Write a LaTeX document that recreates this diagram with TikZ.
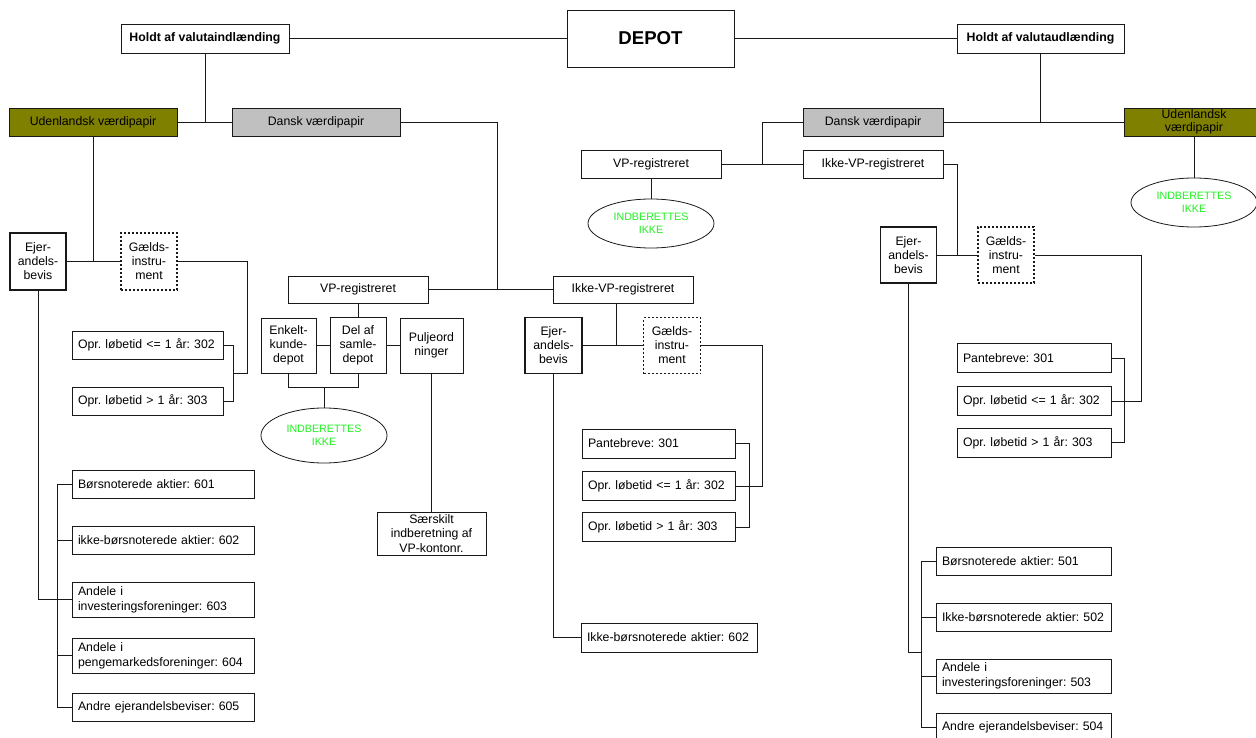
\documentclass[tikz,border=0pt]{standalone}
\usepackage{fontspec}
\setmainfont{Liberation Sans}
\usetikzlibrary{shapes.geometric}
\newcommand\myfs{\fontsize{12.3pt}{14pt}\selectfont\frenchspacing}
\newcommand\myfss{\fontsize{10.7pt}{13pt}\selectfont}
\definecolor{olivebox}{RGB}{128,128,0}
\definecolor{graybox}{RGB}{192,192,192}
\definecolor{greentxt}{RGB}{30,240,30}
\definecolor{linecol}{RGB}{25,25,25}
\tikzset{
  bx/.style={draw=linecol, line width=0.8pt, inner sep=0pt, align=center, font=\myfs},
  lb/.style={bx, align=left, inner xsep=6pt, text width=#1},
  ejerbox/.style={bx, line width=1.8pt, minimum width=56pt, minimum height=56pt},
  gaeldbox/.style={bx, line width=1.5pt, dash pattern=on 2pt off 2pt, minimum width=56pt, minimum height=56pt},
  ell/.style={draw=linecol, line width=0.8pt, ellipse, inner sep=0pt, align=center, font=\myfss, text=greentxt},
  cn/.style={draw=linecol, line width=0.8pt},
}
\begin{document}
\frenchspacing
\begin{tikzpicture}[x=1pt,y=-1pt]
\useasboundingbox (0,0) rectangle (1256,738);
\clip (0,0) rectangle (1256,738);
% top row
\node[bx, font=\myfs\bfseries, minimum width=168pt, minimum height=29pt] (holdtL) at (205,38.5) {Holdt af valutaindlænding};
\node[bx, font=\fontsize{18.6pt}{20pt}\selectfont\bfseries, minimum width=167pt, minimum height=57pt] (depot) at (650.5,38.5) {DEPOT};
\node[bx, font=\myfs\bfseries, minimum width=167pt, minimum height=29pt] (holdtR) at (1040.5,38.5) {Holdt af valutaudlænding};
% second row
\node[bx, fill=olivebox, minimum width=168pt, minimum height=28pt] (udenL) at (93,122) {Udenlandsk værdipapir};
\node[bx, fill=graybox, minimum width=168pt, minimum height=28pt] (danskL) at (316,122) {Dansk værdipapir};
\node[bx, fill=graybox, minimum width=140pt, minimum height=28pt] (danskR) at (873,122) {Dansk værdipapir};
\node[bx, fill=olivebox, minimum width=140pt, minimum height=28pt, font=\fontsize{12.3pt}{13pt}\selectfont] (udenR) at (1194,122) {Udenlandsk\\værdipapir};
% right VP
\node[bx, minimum width=140pt, minimum height=28pt] (vpR) at (651,164) {VP-registreret};
\node[bx, minimum width=140pt, minimum height=28pt] (ikkevpR) at (873,164) {Ikke-VP-registreret};
\node[ell, minimum width=126pt, minimum height=49pt] (ellVPR) at (651,223.5) {INDBERETTES\\IKKE};
\node[ell, minimum width=126pt, minimum height=49pt] (ellUR) at (1194,202.5) {INDBERETTES\\IKKE};
% left branch
\node[ejerbox, minimum height=57pt] (ejerL) at (38,261.5) {Ejer-\\andels-\\bevis};
\node[gaeldbox, minimum height=57pt] (gaeldL) at (149,261.5) {Gælds-\\instru-\\ment};
\node[lb=139pt, minimum height=28pt] (opr1L) at (147.5,345) {Opr. løbetid <= 1 år: 302};
\node[lb=139pt, minimum height=28pt] (opr2L) at (147.5,401) {Opr. løbetid > 1 år: 303};
\node[lb=170pt, minimum height=28pt] (b601) at (163,484) {Børsnoterede aktier: 601};
\node[lb=170pt, minimum height=28pt] (b602) at (163,540) {ikke-børsnoterede aktier: 602};
\node[lb=170pt, minimum height=35pt, font=\fontsize{12.3pt}{15pt}\selectfont] (b603) at (163,599.5) {Andele i\\investeringsforeninger: 603};
\node[lb=170pt, minimum height=35pt, font=\fontsize{12.3pt}{15pt}\selectfont] (b604) at (163,655.5) {Andele i\\pengemarkedsforeninger: 604};
\node[lb=170pt, minimum height=28pt] (b605) at (163,707) {Andre ejerandelsbeviser: 605};
% middle VP
\node[bx, minimum width=140pt, minimum height=27pt] (vpM) at (358,289.5) {VP-registreret};
\node[bx, minimum width=140pt, minimum height=27pt] (ikkevpM) at (623,289.5) {Ikke-VP-registreret};
\node[bx, minimum width=55pt, minimum height=55pt] (enkelt) at (288.5,345.5) {Enkelt-\\kunde-\\depot};
\node[bx, minimum width=56pt, minimum height=56pt] (delaf) at (358,345) {Del af\\samle-\\depot};
\node[bx, minimum width=63pt, minimum height=55pt] (pulje) at (431.5,345.5) {Puljeord\\ninger};
\node[ell, minimum width=126pt, minimum height=55pt] (ellM) at (324,435.5) {INDBERETTES\\IKKE};
\node[bx, minimum width=109pt, minimum height=43pt, font=\fontsize{12.3pt}{14.5pt}\selectfont] (saerskilt) at (431.5,533.5) {Særskilt\\indberetning af\\VP-kontonr.};
% middle Ikke-VP
\node[ejerbox, minimum height=56pt, minimum width=57pt] (ejerM) at (553.5,345.5) {Ejer-\\andels-\\bevis};
\node[gaeldbox, minimum height=56pt, minimum width=57pt] (gaeldM) at (672,345.5) {Gælds-\\instru-\\ment};
\node[lb=141pt, minimum height=29pt] (p301M) at (658.5,443.5) {Pantebreve: 301};
\node[lb=141pt, minimum height=29pt] (opr1M) at (658.5,486) {Opr. løbetid <= 1 år: 302};
\node[lb=141pt, minimum height=29pt] (opr2M) at (658.5,527) {Opr. løbetid > 1 år: 303};
\node[lb=164pt, minimum height=29pt] (b602M) at (669,637.5) {Ikke-børsnoterede aktier: 602};
% right Ikke-VP
\node[ejerbox] (ejerR) at (908.5,255) {Ejer-\\andels-\\bevis};
\node[gaeldbox] (gaeldR) at (1006,255) {Gælds-\\instru-\\ment};
\node[lb=142pt, minimum height=29pt] (p301R) at (1034,358) {Pantebreve: 301};
\node[lb=142pt, minimum height=29pt] (opr1R) at (1034,401) {Opr. løbetid <= 1 år: 302};
\node[lb=142pt, minimum height=29pt] (opr2R) at (1034,442.5) {Opr. løbetid > 1 år: 303};
\node[lb=163pt, minimum height=28pt] (b501) at (1023.5,561) {Børsnoterede aktier: 501};
\node[lb=163pt, minimum height=28pt] (b502) at (1023.5,617) {Ikke-børsnoterede aktier: 502};
\node[lb=163pt, minimum height=34pt, font=\fontsize{12.3pt}{15pt}\selectfont] (b503) at (1023.5,676) {Andele i\\investeringsforeninger: 503};
\node[lb=163pt, minimum height=27pt] (b504) at (1023.5,727) {Andre ejerandelsbeviser: 504};
% junction coordinates
\coordinate (jL) at (497,289.5);
\coordinate (jG1) at (247,373);
\coordinate (bL) at (58,599.5);
\coordinate (jM) at (616,345.5);
\coordinate (jG2) at (762,486);
\coordinate (jR) at (762,164);
\coordinate (jR2) at (957,255);
\coordinate (jG3) at (1141,401);
\coordinate (bR) at (922,652);
% connectors top
\draw[cn] (holdtL.east) -- (depot.west);
\draw[cn] (depot.east) -- (holdtR.west);
\draw[cn] (udenL.east) -- (danskL.west);
\draw[cn] (holdtL.south) -- (holdtL.south |- udenL.east);
\draw[cn] (danskR.east) -- (udenR.west);
\draw[cn] (holdtR.south) -- (holdtR.south |- danskR.east);
% left branch
\draw[cn] (udenL.south) -- (udenL.south |- ejerL.east);
\draw[cn] (ejerL.east) -- (gaeldL.west);
\draw[cn] (gaeldL.east) -| (jG1) -- ++(-14,0);
\draw[cn] (opr1L.east) -- ++(10,0) |- (opr2L.east);
\draw[cn] (ejerL.south) |- (bL);
\draw[cn] (b601.west) -- ++(-14,0) |- (b605.west);
\draw[cn] (b602.west) -- ++(-14,0);
\draw[cn] (b603.west) -- ++(-14,0);
\draw[cn] (b604.west) -- ++(-14,0);
% middle
\draw[cn] (danskL.east) -| (jL);
\draw[cn] (vpM.east) -- (ikkevpM.west);
\draw[cn] (vpM.south) -- (delaf.north);
\draw[cn] (enkelt.east) -- (enkelt.east -| delaf.west);
\draw[cn] (delaf.east |- pulje.west) -- (pulje.west);
\draw[cn] (enkelt.south) -- ++(0,14) -| (delaf.south);
\draw[cn] (ellM.north) -- ++(0,-21);
\draw[cn] (pulje.south) -- (saerskilt.north);
\draw[cn] (jM |- ikkevpM.south) -- (jM);
\draw[cn] (ejerM.east) -- (gaeldM.west);
\draw[cn] (gaeldM.east) -| (jG2) -- (opr1M.east);
\draw[cn] (p301M.east) -- ++(14,0) |- (opr2M.east);
\draw[cn] (ejerM.south) |- (b602M.west);
% right
\draw[cn] (danskR.west) -| (jR);
\draw[cn] (vpR.east) -- (ikkevpR.west);
\draw[cn] (vpR.south) -- (ellVPR.north);
\draw[cn] (udenR.south) -- (ellUR.north);
\draw[cn] (ikkevpR.east) -| (jR2);
\draw[cn] (ejerR.east) -- (gaeldR.west);
\draw[cn] (gaeldR.east) -| (jG3) -- (opr1R.east);
\draw[cn] (p301R.east) -- ++(13,0) |- (opr2R.east);
\draw[cn] (ejerR.south) |- (bR);
\draw[cn] (b501.west) -- ++(-14,0) |- (b504.west);
\draw[cn] (b502.west) -- ++(-14,0);
\draw[cn] (b503.west) -- ++(-14,0);
\end{tikzpicture}
\end{document}
